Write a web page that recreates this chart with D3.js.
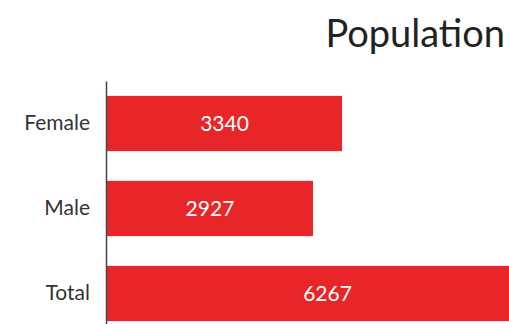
<!DOCTYPE html>
<html><head><meta charset="utf-8">
<script src="https://cdn.jsdelivr.net/npm/d3@7"></script>
<style>body{margin:0;background:#fff}svg{display:block}</style>
</head><body>
<svg id="c" width="509" height="324"></svg>
<script>
const categories = ["Female", "Male", "Total"];
const values = [3340, 2927, 6267];
const title = "Population";

const svg = d3.select("#c");
const x0 = 107;
const x = d3.scaleLinear().domain([0, d3.max(values)]).range([x0, x0 + 441]);
const y = d3.scaleBand().domain(categories).range([81, 336]).paddingInner(0.35).paddingOuter(0.175);
const font = "Lato, 'Open Sans', sans-serif";

svg.append("text").attr("x", 505).attr("y", 47).attr("text-anchor", "end")
  .attr("font-family", font).attr("font-size", 38).attr("fill", "#222").text(title);

svg.selectAll("rect.bar").data(values).join("rect").attr("class", "bar")
  .attr("x", x(0)).attr("y", (d, i) => y(categories[i]))
  .attr("width", d => x(d) - x(0)).attr("height", y.bandwidth())
  .attr("fill", "#e8262a");

svg.selectAll("text.val").data(values).join("text").attr("class", "val")
  .attr("x", d => (x(0) + x(d)) / 2).attr("y", (d, i) => y(categories[i]) + y.bandwidth() / 2)
  .attr("dy", "0.35em").attr("text-anchor", "middle")
  .attr("font-family", font).attr("font-size", 21).attr("fill", "#fff").text(d => d);

const ax = svg.append("g").attr("transform", `translate(${x0 - 1},0)`)
  .call(d3.axisLeft(y).tickSize(0).tickPadding(16));
ax.select(".domain").attr("stroke", "#444").attr("stroke-width", 1.5);
ax.selectAll("text").attr("font-family", font).attr("font-size", 21).attr("fill", "#333");
</script>
</body></html>
